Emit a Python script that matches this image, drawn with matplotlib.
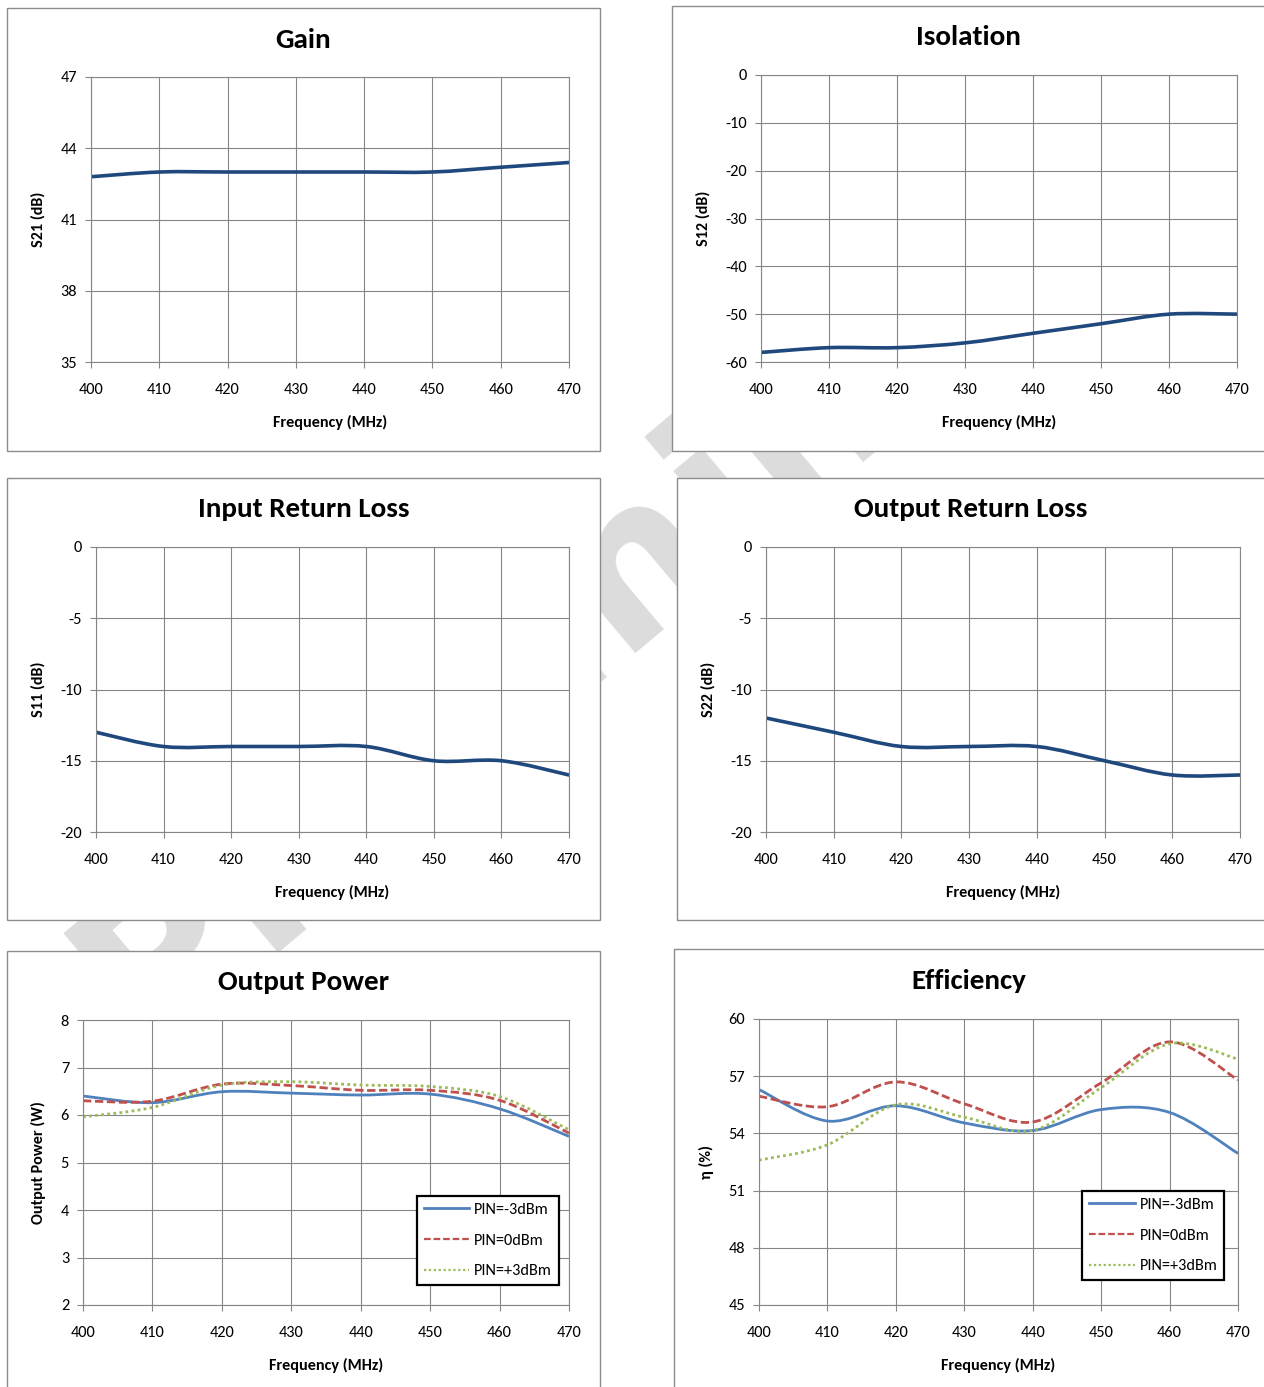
import numpy as np
import matplotlib
matplotlib.use("Agg")
import matplotlib.pyplot as plt
from matplotlib.path import Path
from matplotlib.patches import PathPatch, Rectangle
from matplotlib.lines import Line2D

plt.rcParams["font.family"] = ["Carlito", "Lato", "DejaVu Sans"]
plt.rcParams["axes.unicode_minus"] = False

# ------------------------------------------------------------ data
freq = [400, 410, 420, 430, 440, 450, 460, 470]
gain_s21 = [42.8, 43.0, 43.0, 43.0, 43.0, 43.0, 43.2, 43.4]
iso_s12 = [-58, -57, -57, -56, -54, -52, -50, -50]
irl_s11 = [-13, -14, -14, -14, -14, -15, -15, -16]
orl_s22 = [-12, -13, -14, -14, -14, -15, -16, -16]
pout_m3 = [6.40, 6.26, 6.49, 6.46, 6.42, 6.44, 6.13, 5.55]
pout_0 = [6.30, 6.29, 6.65, 6.62, 6.52, 6.52, 6.31, 5.62]
pout_p3 = [5.96, 6.16, 6.63, 6.70, 6.63, 6.60, 6.39, 5.69]
eff_m3 = [56.3, 54.65, 55.45, 54.55, 54.15, 55.25, 55.1, 52.95]
eff_0 = [55.95, 55.4, 56.7, 55.55, 54.6, 56.65, 58.8, 56.8]
eff_p3 = [52.6, 53.4, 55.5, 54.85, 54.15, 56.4, 58.7, 57.9]
pin_labels = ["PIN=-3dBm", "PIN=0dBm", "PIN=+3dBm"]

W, H = 1264, 1387
fig = plt.figure(figsize=(W / 100, H / 100), dpi=100)

GRID = "#868686"
DARK = "#1f497d"
MULTI = [("#4f81bd", "-"), ("#c0504d", (0, (3, 1.3))), ("#9bbb59", (0, (1, 1.2)))]


def fx(x):
    return x / W


def fy(y):
    return 1 - y / H


def smooth_path(x, y):
    # excel-style smoothed line: cubic bezier through the points
    p = np.column_stack([x, y]).astype(float)
    n = len(p)
    verts, codes = [p[0]], [Path.MOVETO]
    for i in range(n - 1):
        pm = p[max(i - 1, 0)]
        pp = p[min(i + 2, n - 1)]
        c1 = p[i] + (p[i + 1] - pm) / 6
        c2 = p[i + 1] - (pp - p[i]) / 6
        verts += [c1, c2, p[i + 1]]
        codes += [Path.CURVE4] * 3
    return Path(verts, codes)


# watermark sits behind the chart frames
fig.text(fx(632), fy(565), "Preliminary", rotation=40, fontsize=152, color="#dcdcdc",
         ha="center", va="center", zorder=0.5, family="DejaVu Sans", fontweight="bold")

panels = [
    dict(frame=(7, 600, 8, 451), plot=(91, 569, 77, 362), title="Gain", ty=40,
         ylab="S21 (dB)", ylx=38, ylim=(35, 47), yt=np.arange(35, 48, 3),
         series=[gain_s21], xly=422),
    dict(frame=(672, 1272, 6, 451), plot=(761, 1237, 75, 362), title="Isolation", ty=37,
         ylab="S12 (dB)", ylx=703, ylim=(-60, 0), yt=np.arange(-60, 1, 10),
         series=[iso_s12], xly=422),
    dict(frame=(7, 600, 478, 920), plot=(96, 569, 547, 832), title="Input Return Loss", ty=509,
         ylab="S11 (dB)", ylx=38, ylim=(-20, 0), yt=np.arange(-20, 1, 5),
         series=[irl_s11], xly=892),
    dict(frame=(677, 1272, 478, 920), plot=(766, 1240, 547, 832), title="Output Return Loss", ty=509,
         ylab="S22 (dB)", ylx=708, ylim=(-20, 0), yt=np.arange(-20, 1, 5),
         series=[orl_s22], xly=892),
    dict(frame=(7, 600, 951, 1400), plot=(83, 569, 1020, 1305), title="Output Power", ty=982,
         ylab="Output Power (W)", ylx=38, ylim=(2, 8), yt=np.arange(2, 9, 1),
         series=[pout_m3, pout_0, pout_p3], xly=1365, leg=(0.979, 0.07)),
    dict(frame=(674, 1272, 949, 1400), plot=(759, 1238, 1019, 1305), title="Efficiency", ty=981,
         ylab="η (%)", ylx=706, ylim=(45, 60), yt=np.arange(45, 61, 3),
         series=[eff_m3, eff_0, eff_p3], xly=1365, leg=(0.971, 0.087)),
]

for pn in panels:
    x0, x1, y0, y1 = pn["frame"]
    fig.add_artist(Rectangle((fx(x0), fy(y1)), fx(x1 - x0), (y1 - y0) / H,
                             transform=fig.transFigure, facecolor="white",
                             edgecolor="#8c8c8c", lw=1.0, zorder=1))
    fig.text(fx((x0 + min(x1, W)) / 2), fy(pn["ty"]), pn["title"], fontsize=21,
             fontweight="bold", ha="center", va="center", zorder=4)

    a0, a1, b0, b1 = pn["plot"]
    ax = fig.add_axes([fx(a0), fy(b1), (a1 - a0) / W, (b1 - b0) / H])
    ax.set_zorder(3)
    ax.set_xlim(400, 470)
    ax.set_ylim(*pn["ylim"])
    ax.set_xticks(freq)
    ax.set_yticks(pn["yt"])
    ax.grid(True, color=GRID, lw=0.8)
    ax.set_axisbelow(True)
    for s in ax.spines.values():
        s.set_color(GRID)
        s.set_linewidth(0.8)
    ax.tick_params(axis="both", direction="out", length=4, width=0.8, color=GRID,
                   labelsize=11.8)
    ax.tick_params(axis="x", pad=11)
    ax.tick_params(axis="y", pad=6)

    if len(pn["series"]) == 1:
        ax.add_patch(PathPatch(smooth_path(freq, pn["series"][0]), fill=False,
                               edgecolor=DARK, lw=2.6, capstyle="round", joinstyle="round"))
    else:
        handles = []
        for vals, (col, ls), lab in zip(pn["series"], MULTI, pin_labels):
            ax.add_patch(PathPatch(smooth_path(freq, vals), fill=False, edgecolor=col,
                                   lw=2.0, linestyle=ls, capstyle="butt"))
            handles.append(Line2D([], [], color=col, lw=2.0 if ls == "-" else 1.6,
                                  linestyle=ls, label=lab))
        leg = ax.legend(handles=handles, loc="lower right", bbox_to_anchor=pn["leg"],
                        borderaxespad=0, fontsize=11.7, frameon=True, fancybox=False,
                        framealpha=1, edgecolor="black", borderpad=0.42,
                        labelspacing=1.0, handlelength=2.8, handletextpad=0.3)
        leg.get_frame().set_linewidth(1.6)

    fig.text(fx((a0 + a1) / 2), fy(pn["xly"]), "Frequency (MHz)", fontsize=11.6,
             fontweight="bold", ha="center", va="center", zorder=4)
    fig.text(fx(pn["ylx"]), fy((b0 + b1) / 2), pn["ylab"], fontsize=11.6, rotation=90,
             fontweight="bold", ha="center", va="center", zorder=4)

fig.savefig("out.png", dpi=100)
